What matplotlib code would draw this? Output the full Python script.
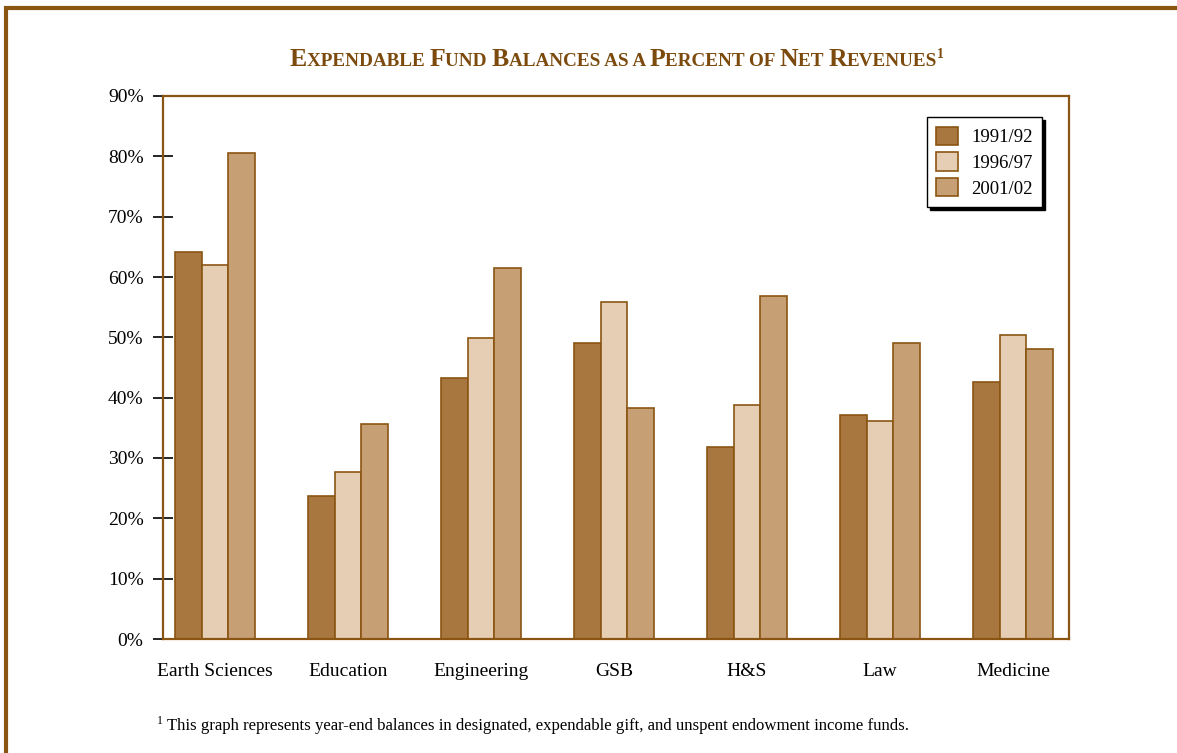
import matplotlib.pyplot as plt
import numpy as np
from matplotlib.patches import Rectangle

categories = ["Earth Sciences", "Education", "Engineering", "GSB", "H&S", "Law", "Medicine"]
years = ["1991/92", "1996/97", "2001/02"]
fy1992 = [64.1, 23.7, 43.3, 49.1, 31.8, 37.1, 42.6]
fy1997 = [62.0, 27.7, 49.9, 55.9, 38.8, 36.1, 50.4]
fy2002 = [80.6, 35.6, 61.5, 38.3, 56.9, 49.1, 48.1]
yticks = list(range(0, 91, 10))

BROWN = "#8a5512"
TITLE = "#7b4a0c"
FILLS = ["#a8773f", "#e6ceb5", "#c69f75"]
SERIF = ["Liberation Serif", "DejaVu Serif"]

plt.rcParams["font.family"] = SERIF

W, H = 1177, 753
fig = plt.figure(figsize=(W / 100, H / 100), dpi=100)
ax = fig.add_axes([163 / W, 1 - 639 / H, 906 / W, 543 / H])

x = np.arange(len(categories))
w = 0.2
for i, (vals, col, lab) in enumerate(zip([fy1992, fy1997, fy2002], FILLS, years)):
    ax.bar(x + (i - 1) * w, vals, w, color=col, edgecolor=BROWN, linewidth=1.2, label=lab)

ax.set_xlim(-0.39, 6.42)
ax.set_ylim(0, 90)
ax.set_yticks(yticks)
ax.set_yticklabels([f"{t}%" for t in yticks], fontsize=14)
ax.set_xticks(x)
ax.set_xticklabels(categories, fontsize=14)
ax.tick_params(axis="x", length=0, pad=17)
ax.tick_params(axis="y", direction="inout", length=14, width=1.2, color="black", pad=7)
for s in ax.spines.values():
    s.set_color(BROWN)
    s.set_linewidth(1.6)

leg = ax.legend(loc="upper right", bbox_to_anchor=(0.970, 0.961), fontsize=13.5,
                frameon=True, fancybox=False, shadow={"color": "black", "alpha": 1},
                handlelength=1.15, handleheight=1.15, borderpad=0.5, labelspacing=0.32,
                handletextpad=0.7, borderaxespad=0)
leg.get_frame().set_edgecolor("black")
leg.get_frame().set_linewidth(1.0)

# outer frame, open on the right and bottom
fig.add_artist(Rectangle((6 / W, -0.1), 1.2, 1.1 - 8 / H, transform=fig.transFigure,
                         fill=False, edgecolor=BROWN, linewidth=3))

renderer = fig.canvas.get_renderer()


def run_text(parts, x0, y0, center=False, **kw):
    # lay out text pieces one after another on a shared baseline
    placed = []
    cur = x0
    for s, size, rise in parts:
        t = fig.text(cur, y0 + rise / H, s, fontsize=size, va="baseline", ha="left", **kw)
        placed.append(t)
        cur += t.get_window_extent(renderer).width / fig.bbox.width
    if center:
        shift = -(cur - x0) / 2
        for t in placed:
            px, py = t.get_position()
            t.set_position((px + shift, py))
    return placed


big, small = 18.5, 13.8
words = [("E", "XPENDABLE "), ("F", "UND "), ("B", "ALANCES AS A "), ("P", "ERCENT OF "),
         ("N", "ET "), ("R", "EVENUES")]
title_parts = []
for cap, rest in words:
    title_parts.append((cap, big, 0))
    title_parts.append((rest, small, 0))
title_parts.append(("1", 10, 8))
run_text(title_parts, 617 / W, 1 - 66 / H, center=True, fontweight="bold", color=TITLE)

run_text([("1", 8.5, 6),
          (" This graph represents year-end balances in designated, expendable gift, "
           "and unspent endowment income funds.", 12.1, 0)],
         157 / W, 1 - 730 / H, color="black")

fig.savefig("out.png", dpi=100)
